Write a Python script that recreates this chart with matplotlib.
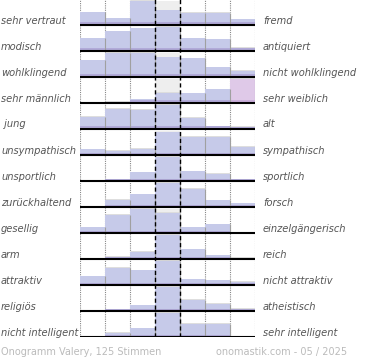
import numpy as np
import matplotlib
matplotlib.use("Agg")
import matplotlib.pyplot as plt
from matplotlib.transforms import blended_transform_factory

# left / right pole of each scale
left_labels = ["sehr vertraut", "modisch", "wohlklingend", "sehr männlich", " jung",
               "unsympathisch", "unsportlich", "zurückhaltend", "gesellig", "arm",
               "attraktiv", "religiös", "nicht intelligent"]
right_labels = ["fremd", "antiquiert", "nicht wohlklingend", "sehr weiblich", "alt",
                "sympathisch", "sportlich", "forsch", "einzelgängerisch", "reich",
                "nicht attraktiv", "atheistisch", "sehr intelligent"]

# share of votes per step (7 steps), scaled to 100 = full bar
votes = [
    [53, 29, 100, 61, 52, 52, 23],
    [53, 82, 94, 100, 53, 49, 14],
    [69, 100, 100, 82, 78, 41, 25],
    [0, 6, 16, 43, 40, 57, 100],
    [50, 85, 80, 100, 46, 12, 10],
    [23, 18, 27, 95, 75, 75, 34],
    [0, 8, 36, 100, 40, 31, 7],
    [0, 31, 53, 100, 76, 29, 15],
    [23, 76, 100, 84, 23, 36, 0],
    [0, 9, 30, 100, 41, 16, 5],
    [37, 71, 61, 100, 23, 20, 13],
    [0, 8, 23, 100, 47, 31, 9],
    [4, 18, 36, 100, 56, 56, 0],
]
# highlighted cell (row, step)
highlight = (3, 6)

footer_left = "Onogramm Valery, 125 Stimmen"
footer_right = "onomastik.com - 05 / 2025"

W, H = 370, 360
fig = plt.figure(figsize=(W / 100, H / 100), dpi=100)
ax = fig.add_axes([80 / W, (H - 337) / H, 175 / W, 338 / H])
n = len(votes)
ax.set_xlim(0, 7)
ax.set_ylim(0, n)
ax.axis("off")

full = 24 / 26
band = 2.5 / 26
xs = np.arange(7) + 0.5

for i, row in enumerate(votes):
    base = n - 1 - i
    h = np.array(row) / 100 * full
    # grey background of the neutral step
    ax.bar(3.5, full, bottom=base, width=1, color="#eeeeee", lw=0, zorder=1)
    cols = ["#c6cae9"] * 7
    dark = ["#b1aad8"] * 7
    if highlight[0] == i:
        cols[highlight[1]] = "#dfc9e8"
        dark[highlight[1]] = "#c9aed9"
    ax.bar(xs, h, bottom=base, width=1, color=cols, lw=0, zorder=2)
    ax.bar(xs, np.minimum(h, band), bottom=base, width=1, color=dark, lw=0, zorder=2.1)
    ax.hlines(base + h[h > 0] + 0.02, xs[h > 0] - 0.5, xs[h > 0] + 0.5,
              color="#dddddd", lw=0.7, zorder=1.9)
    ax.vlines(xs[h > 0] + 0.48, base, base + h[h > 0], color="#a0a0a0", lw=0.8, zorder=3)
    ax.hlines(base, 0, 7.03, color="black", lw=1.5, zorder=5)

for x in [0, 1, 2, 5, 6, 7]:
    ax.axvline(x, color="#888888", ls=(0, (1, 1)), lw=0.8, zorder=1.5)
for x in [3, 4]:
    ax.axvline(x, color="black", ls=(0, (3, 2)), lw=1.0, zorder=4)

trans = blended_transform_factory(fig.transFigure, ax.transData)
for i in range(n):
    base = n - 1 - i
    ax.text(1 / W, base + 1.5 / 26, left_labels[i], transform=trans, fontsize=7.1,
            style="italic", color="#555555", va="baseline", ha="left")
    ax.text(263 / W, base + 1.5 / 26, right_labels[i], transform=trans, fontsize=7.1,
            style="italic", color="#555555", va="baseline", ha="left")

fig.text(1 / W, (H - 355) / H, footer_left, fontsize=7, color="#bbbbbb", va="baseline")
fig.text(347 / W, (H - 355) / H, footer_right, fontsize=7, color="#bbbbbb",
         va="baseline", ha="right")

fig.savefig("out.png", dpi=100)
